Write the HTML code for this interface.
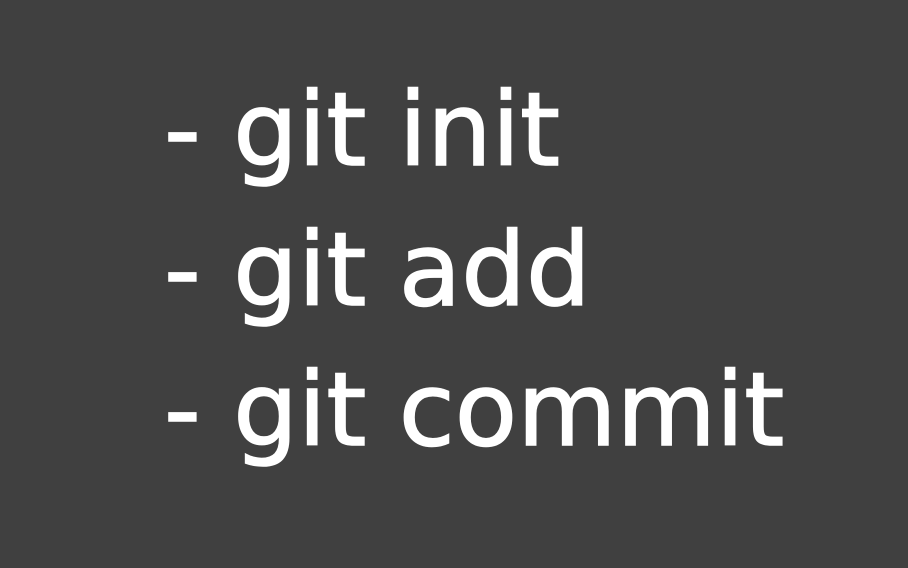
<!DOCTYPE html>
<html><head><meta charset="utf-8"><style>
html,body{margin:0;padding:0;}
body{width:908px;height:568px;background:#404040;overflow:hidden;position:relative;}
.t{position:absolute;left:164px;top:61px;font-family:"DejaVu Sans","Liberation Sans",sans-serif;font-size:102px;line-height:140px;color:#fff;white-space:pre;-webkit-text-stroke:1.5px #fff;}
</style></head><body>
<div class="t">- git init
- git add
- git commit</div>
</body></html>
